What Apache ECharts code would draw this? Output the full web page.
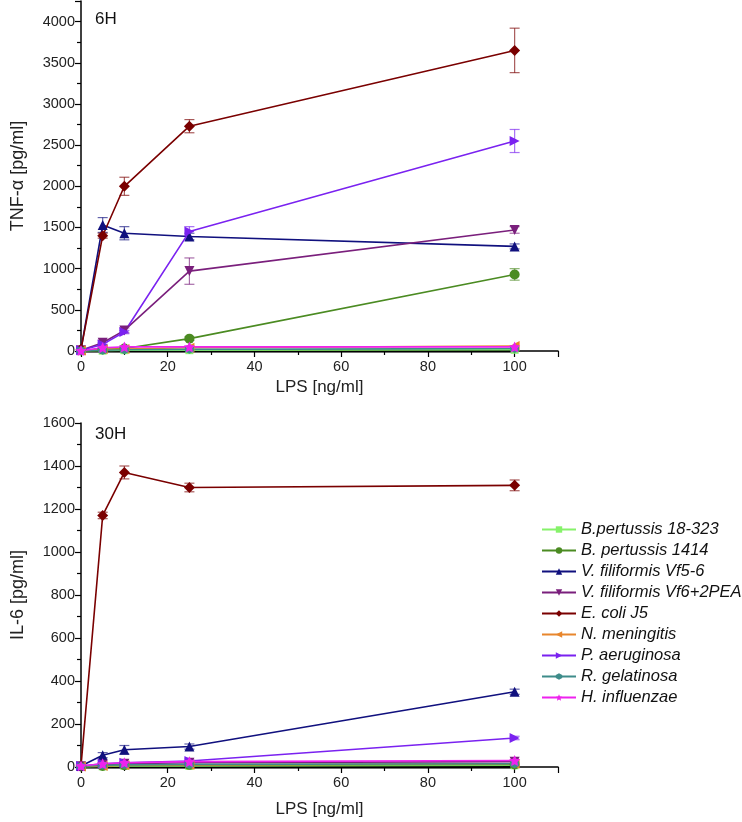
<!DOCTYPE html>
<html><head><meta charset="utf-8">
<script src="https://cdn.jsdelivr.net/npm/echarts@6/dist/echarts.min.js"></script>
<style>html,body{margin:0;padding:0;background:#fff}#c{width:742px;height:822px}</style>
</head><body><div id="c"></div>
<script>
const doses = [0, 5, 10, 25, 100];
const names = ['B.pertussis 18-323','B. pertussis 1414','V. filiformis Vf5-6','V. filiformis Vf6+2PEA','E. coli J5','N. meningitis','P. aeruginosa','R. gelatinosa','H. influenzae'];
const colors = ['#86f26a','#4b8b22','#10107e','#7a1f7c','#7a0000','#e8862c','#7a22f0','#3e8c8a','#ee22ee'];

// 6H TNF-alpha values and error sizes
const tnf_bp18 = [0, 5, 10, 10, 15];
const tnf_bp1414 = [5, 20, 30, 150, 930];
const tnf_vf56 = [20, 1530, 1430, 1390, 1270];
const tnf_vf6 = [10, 100, 250, 970, 1470];
const tnf_ecoli = [20, 1400, 2000, 2730, 3650];
const tnf_nmen = [5, 20, 25, 40, 60];
const tnf_paer = [10, 80, 230, 1450, 2550];
const tnf_rgel = [5, 10, 15, 20, 30];
const tnf_hinf = [5, 40, 50, 50, 50];
const tnf_ctrl = [0, 0, 0, 0, 0];
const tnf_err_bp1414 = [0, 5, 5, 20, 70];
const tnf_err_vf56 = [0, 90, 80, 40, 30];
const tnf_err_vf6 = [0, 30, 30, 160, 40];
const tnf_err_ecoli = [0, 30, 110, 80, 270];
const tnf_err_paer = [0, 20, 20, 60, 140];

// 30H IL-6 values and error sizes
const il6_bp18 = [0, 3, 5, 5, 8];
const il6_bp1414 = [2, 5, 8, 10, 12];
const il6_vf56 = [5, 55, 80, 95, 350];
const il6_vf6 = [3, 10, 15, 20, 25];
const il6_ecoli = [5, 1170, 1370, 1300, 1310];
const il6_nmen = [2, 5, 8, 10, 15];
const il6_paer = [5, 15, 20, 28, 135];
const il6_rgel = [3, 8, 10, 12, 15];
const il6_hinf = [5, 15, 20, 25, 30];
const il6_ctrl = [0, 0, 0, 0, 0];
const il6_err_vf56 = [0, 12, 20, 12, 12];
const il6_err_ecoli = [0, 15, 30, 20, 25];
const il6_err_paer = [0, 5, 5, 5, 8];

const tnfSets = [tnf_bp18, tnf_bp1414, tnf_vf56, tnf_vf6, tnf_ecoli, tnf_nmen, tnf_paer, tnf_rgel, tnf_hinf];
const il6Sets = [il6_bp18, il6_bp1414, il6_vf56, il6_vf6, il6_ecoli, il6_nmen, il6_paer, il6_rgel, il6_hinf];
const tnfErr = {1: tnf_err_bp1414, 2: tnf_err_vf56, 3: tnf_err_vf6, 4: tnf_err_ecoli, 6: tnf_err_paer};
const il6Err = {2: il6_err_vf56, 4: il6_err_ecoli, 6: il6_err_paer};

const star = 'path://M0,-10 L2.9,-4 9.5,-3.1 4.8,1.5 5.9,8.1 0,5 -5.9,8.1 -4.8,1.5 -9.5,-3.1 -2.9,-4 Z';
const hexa = 'path://M0,-10 L8.66,-5 8.66,5 0,10 -8.66,5 -8.66,-5 Z';
const symbols = ['rect','circle','triangle','triangle','diamond','triangle','triangle',hexa,star];
const rotates = [0,0,0,180,0,90,-90,0,0];
const sizes = [8,10,10,10,11,10,10,9,11];

const FONT = 'Liberation Sans, Arial, sans-serif';
const chart = echarts.init(document.getElementById('c'), null, {renderer:'canvas'});

function xAxis(gi, gap){
  return {gridIndex: gi, type:'value', min:0, max:110, interval:20,
    axisLine:{lineStyle:{color:'#000', width:1.5}},
    axisTick:{length:6, lineStyle:{color:'#000', width:1.2}},
    minorTick:{show:true, splitNumber:2, length:4, lineStyle:{color:'#000', width:1.2}},
    splitLine:{show:false},
    axisLabel:{color:'#222', fontSize:14.5, fontFamily:FONT, showMaxLabel:false, margin:8, formatter: v => String(v)},
    name:'LPS [ng/ml]', nameLocation:'middle', nameGap: gap,
    nameTextStyle:{color:'#222', fontSize:17, fontFamily:FONT}};
}
function yAxis(gi, max, interval, name){
  return {gridIndex: gi, type:'value', min:0, max:max, interval:interval,
    axisLine:{show:true, lineStyle:{color:'#000', width:1.5}},
    axisTick:{show:true, length:6, lineStyle:{color:'#000', width:1.2}},
    minorTick:{show:true, splitNumber:2, length:4, lineStyle:{color:'#000', width:1.2}},
    splitLine:{show:false},
    axisLabel:{color:'#222', fontSize:14.5, fontFamily:FONT, showMaxLabel: max % interval === 0, margin:6, formatter: v => String(v)},
    name:name, nameLocation:'middle', nameGap: 54, nameRotate: 90,
    nameTextStyle:{color:'#222', fontSize:18, fontFamily:FONT}};
}

const series = [];
function addGroup(gi, sets, errs, ctrl){
  series.push({type:'line', name:'control', xAxisIndex:gi, yAxisIndex:gi,
    data: doses.map((d,j)=>[d, ctrl[j]]), symbol:'none',
    lineStyle:{color:'#000', width:3.5}, z:1, silent:true});
  sets.forEach((vals, i) => {
    series.push({type:'line', name:names[i], xAxisIndex:gi, yAxisIndex:gi,
      data: doses.map((d,j)=>[d, vals[j]]),
      color: colors[i], symbol: symbols[i], symbolRotate: rotates[i], symbolSize: sizes[i],
      lineStyle:{width:1.6, color: colors[i]}, itemStyle:{color: colors[i]}, z:3});
  });
  Object.keys(errs).forEach(k => {
    const i = +k; const e = errs[k]; const vals = sets[i];
    series.push({type:'custom', name:'err'+gi+'_'+i, xAxisIndex:gi, yAxisIndex:gi, z:2,
      data: doses.map((d,j)=>[d, vals[j]-e[j], vals[j]+e[j]]).filter((r,j)=>e[j]>0),
      renderItem: function(params, api){
        const lo = api.coord([api.value(0), api.value(1)]);
        const hi = api.coord([api.value(0), api.value(2)]);
        const w = 5;
        const st = {stroke: colors[i], lineWidth: 1.2, opacity: 0.65};
        return {type:'group', children:[
          {type:'line', shape:{x1:lo[0], y1:lo[1], x2:hi[0], y2:hi[1]}, style:st},
          {type:'line', shape:{x1:lo[0]-w, y1:lo[1], x2:lo[0]+w, y2:lo[1]}, style:st},
          {type:'line', shape:{x1:hi[0]-w, y1:hi[1], x2:hi[0]+w, y2:hi[1]}, style:st}
        ]};
      }});
  });
}
addGroup(0, tnfSets, tnfErr, tnf_ctrl);
addGroup(1, il6Sets, il6Err, il6_ctrl);

chart.setOption({
  animation:false,
  textStyle:{fontFamily:FONT},
  grid:[{left:81, top:1, width:477, height:350, containLabel:false},
        {left:81, top:423, width:477, height:344, containLabel:false}],
  title:[{text:'6H', left:90, top:6, textStyle:{fontSize:17, fontWeight:'normal', color:'#111', fontFamily:FONT}},
         {text:'30H', left:90, top:421, textStyle:{fontSize:17, fontWeight:'normal', color:'#111', fontFamily:FONT}}],
  legend:{data:names, orient:'vertical', left:536, top:516, itemWidth:34, itemHeight:8, itemGap:4,
    textStyle:{fontSize:16.5, fontStyle:'italic', color:'#111', fontFamily:FONT}},
  xAxis:[xAxis(0, 28), xAxis(1, 34)],
  yAxis:[yAxis(0, 4250, 500, 'TNF-α [pg/ml]'), yAxis(1, 1600, 200, 'IL-6 [pg/ml]')],
  series: series
});
</script></body></html>
